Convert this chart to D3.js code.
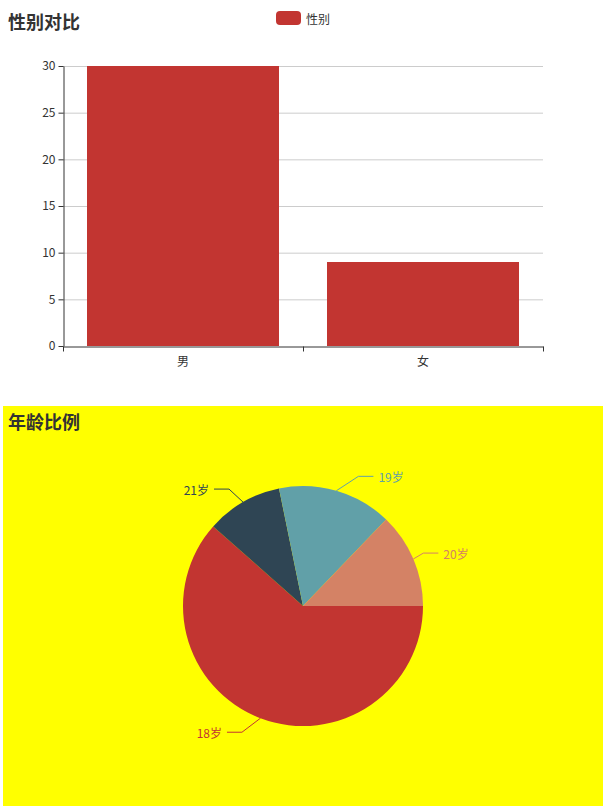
<!DOCTYPE html>
<meta charset="utf-8">
<html>
  <head>
    <style>
      body { margin: 0; background: #fff; }
      text { font-family: "Noto Sans CJK SC", "Noto Sans", sans-serif; }
      .title { font-size: 18px; font-weight: bold; fill: #333; }
      .axis text { font-size: 12px; fill: #333; }
      .axis path, .axis line { stroke: #333; }
      .grid line { stroke: #ccc; stroke-width: 1px; }
    </style>
    <script src="https://cdn.jsdelivr.net/npm/d3@7"></script>
  </head>
  <body>
    <div id="chart"></div>
    <script>
    // 性别数据
    var genderCats = ["男", "女"];
    var genderVals = [30, 9];
    var yTicks = [0, 5, 10, 15, 20, 25, 30];
    // 年龄数据
    var ageCats = ["18岁", "21岁", "19岁", "20岁"];
    var ageVals = [24, 4, 6, 5];
    var palette = ["#c23531", "#2f4554", "#61a0a8", "#d48265"];

    var svg = d3.select("#chart").append("svg")
        .attr("width", 614)
        .attr("height", 809);

    // ---------- 柱状图 ----------
    var barG = svg.append("g").attr("transform", "translate(3,6)");
    var grid = { left: 60, right: 540, top: 60, bottom: 340 };

    var x = d3.scaleBand()
        .domain(genderCats)
        .range([grid.left, grid.right])
        .paddingInner(0.2)
        .paddingOuter(0.1);
    var xEdge = d3.scaleLinear().domain([0, genderCats.length]).range([grid.left, grid.right]);
    var y = d3.scaleLinear().domain([0, 30]).range([grid.bottom, grid.top]);

    barG.append("text")
        .attr("class", "title")
        .attr("x", 5)
        .attr("y", 14.5)
        .attr("dominant-baseline", "central")
        .text("性别对比");

    // 图例
    var legend = barG.append("g");
    legend.append("rect")
        .attr("x", 273).attr("y", 5)
        .attr("width", 25).attr("height", 14)
        .attr("rx", 4).attr("ry", 4)
        .style("fill", palette[0]);
    legend.append("text")
        .attr("x", 303).attr("y", 12)
        .attr("dominant-baseline", "central")
        .style("font-size", "12px")
        .style("fill", "#333")
        .text("性别");

    barG.append("g").attr("class", "grid")
        .selectAll("line")
        .data(yTicks.filter(function(d) { return d > 0; }))
        .enter().append("line")
        .attr("x1", grid.left).attr("x2", grid.right)
        .attr("y1", function(d) { return y(d) + 0.5; })
        .attr("y2", function(d) { return y(d) + 0.5; });

    barG.selectAll(".bar")
        .data(genderVals)
        .enter().append("rect")
        .attr("class", "bar")
        .attr("x", function(d, i) { return x(genderCats[i]); })
        .attr("y", function(d) { return y(d); })
        .attr("width", x.bandwidth())
        .attr("height", function(d) { return y(0) - y(d); })
        .style("fill", palette[0]);

    var yAxis = barG.append("g")
        .attr("class", "axis")
        .attr("transform", "translate(" + (grid.left + 0.5) + ",0)")
        .call(d3.axisLeft(y).tickValues(yTicks).tickSize(5).tickPadding(3).tickSizeOuter(0));

    var xAxis = barG.append("g")
        .attr("class", "axis")
        .attr("transform", "translate(0," + (grid.bottom + 0.5) + ")")
        .call(d3.axisBottom(xEdge).ticks(genderCats.length).tickSize(5).tickSizeOuter(0).tickFormat(""));
    xAxis.selectAll(".catLabel")
        .data(genderCats)
        .enter().append("text")
        .attr("class", "catLabel")
        .attr("x", function(d) { return x(d) + x.bandwidth() / 2; })
        .attr("y", 14)
        .attr("dominant-baseline", "central")
        .style("text-anchor", "middle")
        .text(function(d) { return d; });

    // ---------- 饼图 ----------
    var pieBox = svg.append("g").attr("transform", "translate(3,406)");
    pieBox.append("rect")
        .attr("width", 600).attr("height", 400)
        .style("fill", "#ffff00");

    pieBox.append("text")
        .attr("class", "title")
        .attr("x", 5)
        .attr("y", 14.5)
        .attr("dominant-baseline", "central")
        .text("年龄比例");

    var cx = 300, cy = 200, r = 120, len = 15, len2 = 15;
    var pie = d3.pie().sort(null)
        .startAngle(Math.PI / 2)
        .endAngle(Math.PI / 2 + 2 * Math.PI);
    var arc = d3.arc().innerRadius(0).outerRadius(r);
    var arcs = pie(ageVals);

    var pieG = pieBox.append("g").attr("transform", "translate(" + cx + "," + cy + ")");
    pieG.selectAll("path")
        .data(arcs)
        .enter().append("path")
        .attr("d", arc)
        .style("fill", function(d, i) { return palette[i]; });

    // 标签位置
    var labels = arcs.map(function(d, i) {
        var mid = (d.startAngle + d.endAngle) / 2;
        var dx = Math.sin(mid), dy = -Math.cos(mid);
        var dir = dx < 0 ? -1 : 1;
        var y2 = (r + len) * dy;
        var deltaX = Math.sqrt(Math.pow(r + len + len2, 2) - y2 * y2);
        var labelX = dir * deltaX;
        var lineEnd = labelX - 5 * dir;
        return {
            name: ageCats[i],
            color: palette[i],
            dir: dir,
            x: labelX,
            y: y2,
            pts: [[r * dx, r * dy], [lineEnd - len2 * dir, y2], [lineEnd, y2]]
        };
    });

    pieG.selectAll(".labelLine")
        .data(labels)
        .enter().append("polyline")
        .attr("class", "labelLine")
        .attr("points", function(d) { return d.pts.map(function(p) { return p.join(","); }).join(" "); })
        .style("fill", "none")
        .style("stroke", function(d) { return d.color; })
        .style("stroke-width", 1);

    pieG.selectAll(".pieLabel")
        .data(labels)
        .enter().append("text")
        .attr("class", "pieLabel")
        .attr("x", function(d) { return d.x; })
        .attr("y", function(d) { return d.y; })
        .attr("dominant-baseline", "central")
        .style("text-anchor", function(d) { return d.dir < 0 ? "end" : "start"; })
        .style("font-size", "12px")
        .style("fill", function(d) { return d.color; })
        .text(function(d) { return d.name; });
    </script>
  </body>
</html>
